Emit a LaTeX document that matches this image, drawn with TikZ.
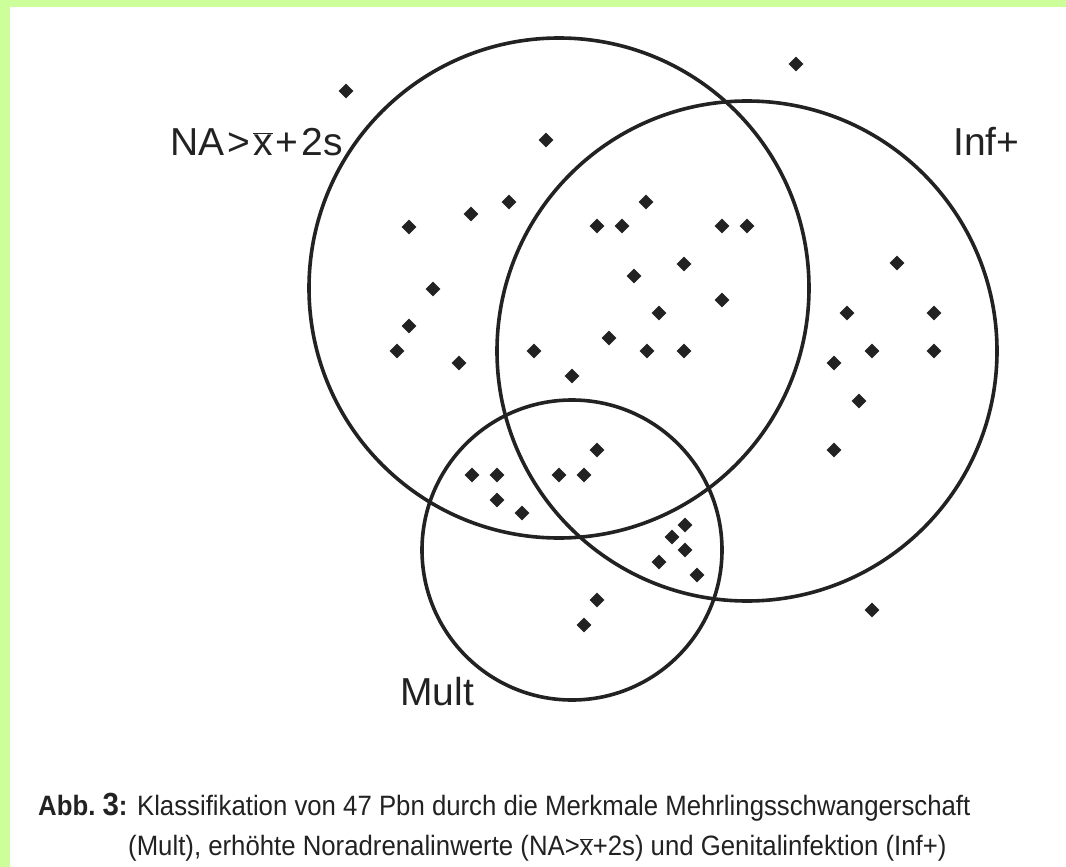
\documentclass[tikz,border=0pt]{standalone}
\usepackage{fontspec}
\setmainfont{Liberation Sans}
\newfontfamily\capfont[FakeStretch=0.92]{Liberation Sans}
\usetikzlibrary{shapes.geometric}
\definecolor{framegreen}{RGB}{204,255,153}
\definecolor{ink}{RGB}{34,34,34}
\newcommand\xbarsym{\ensuremath{\overline{\mbox{x}}}}
\begin{document}
\begin{tikzpicture}[x=1pt,y=-1pt,
  ring/.style={circle, draw=ink, line width=3.6pt, inner sep=0pt},
  dot/.style={diamond, fill=ink, inner sep=0pt, minimum size=15pt},
  lab/.style={font=\fontsize{39}{41}\selectfont, text=ink, inner sep=0pt},
  captext/.style={font=\capfont\fontsize{28}{30}\selectfont, text=ink, inner sep=0pt, anchor=base west}]
\useasboundingbox (0,0) rectangle (1066,867);
\fill[framegreen] (0,0) rectangle (1066,867);
\fill[white] (10,7) rectangle (1066,867);
% circles
\node[ring, minimum size=500pt] (na) at (559,288) {};
\node[ring, minimum size=500pt] (inf) at (747,351) {};
\node[ring, minimum size=300pt] (mult) at (572,550) {};
% labels
\node[lab, anchor=base east] (lna) at (343,155) {NA\kern3pt>\kern3pt\xbarsym\kern3pt+\kern3pt2s};
\node[lab, anchor=base west] (linf) at (953,155) {Inf+};
\node[lab, anchor=base west] (lmult) at (400,705) {Mult};
% dots
\foreach \x/\y [count=\i] in {
 346/91, 796/64, 546/140, 409/227, 471/214, 509/202, 597/226, 622/226,
 646/202, 722/226, 747/226, 634/276, 684/264, 433/289, 659/313, 722/300,
 409/326, 397/351, 459/363, 534/351, 609/338, 647/351, 684/351, 572/376,
 897/263, 847/313, 934/313, 834/363, 872/351, 934/351, 859/401, 834/450,
 597/450, 472/475, 497/475, 559/475, 584/475, 497/500, 522/513, 685/525,
 672/537, 685/550, 659/562, 697/575, 597/600, 584/625, 872/610}
  \node[dot] (d\i) at (\x,\y) {};
% caption
\node[captext] (cap1) at (38,815) {\textbf{Abb.\ {\fontsize{32}{34}\selectfont 3}:} Klassifikation von 47 Pbn durch die Merkmale Mehrlingsschwangerschaft};
\node[captext] (cap2) at (128,855) {(Mult), erhöhte Noradrenalinwerte (NA>\xbarsym+2s) und Genitalinfektion (Inf+)};
\end{tikzpicture}
\end{document}
